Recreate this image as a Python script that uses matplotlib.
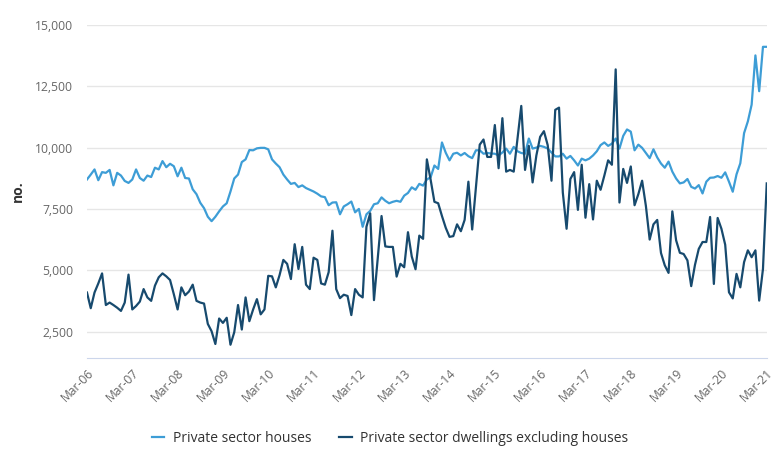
import numpy as np
import matplotlib
matplotlib.use("Agg")
import matplotlib.pyplot as plt
from matplotlib.ticker import FuncFormatter

plt.rcParams['font.family'] = ['Open Sans', 'DejaVu Sans']

# monthly values, Mar to Feb of each year, from Mar-06 to Mar-21
houses_06 = [8700, 8900, 9110, 8670, 9000, 8970, 9090, 8460, 8970, 8860, 8640, 8560]
houses_07 = [8700, 9110, 8760, 8650, 8860, 8800, 9180, 9110, 9450, 9200, 9340, 9240]
houses_08 = [8830, 9180, 8760, 8740, 8300, 8100, 7750, 7530, 7180, 7000, 7180, 7400]
houses_09 = [7600, 7730, 8210, 8740, 8900, 9410, 9520, 9900, 9890, 9970, 9990, 9990]
houses_10 = [9930, 9520, 9350, 9200, 8900, 8700, 8520, 8560, 8390, 8460, 8350, 8280]
houses_11 = [8210, 8120, 8010, 7980, 7650, 7760, 7770, 7280, 7600, 7690, 7800, 7360]
houses_12 = [7500, 6770, 7280, 7420, 7690, 7730, 7970, 7830, 7730, 7790, 7830, 7790]
houses_13 = [8040, 8150, 8380, 8280, 8520, 8450, 8700, 8790, 9270, 9130, 10210, 9790]
houses_14 = [9480, 9750, 9790, 9680, 9780, 9650, 9570, 9890, 9890, 9750, 9780, 9760]
houses_15 = [9750, 9680, 9800, 9960, 9750, 10030, 9850, 9780, 9750, 10370, 9960, 10000]
houses_16 = [10070, 10030, 9960, 9800, 9640, 9640, 9750, 9550, 9660, 9480, 9270, 9550]
houses_17 = [9480, 9550, 9680, 9850, 10100, 10210, 10070, 10160, 10370, 9960, 10480, 10740]
houses_18 = [10650, 9890, 10120, 9990, 9780, 9570, 9930, 9600, 9350, 9180, 9430, 9020]
houses_19 = [8740, 8540, 8580, 8720, 8400, 8330, 8470, 8130, 8610, 8770, 8780, 8840]
houses_20 = [8770, 8990, 8610, 8200, 8910, 9360, 10590, 11070, 11750, 13760, 12300, 14110]
houses_21 = [14110]

other_06 = [4090, 3450, 4090, 4460, 4870, 3580, 3680, 3580, 3470, 3340, 3680, 4820]
other_07 = [3400, 3540, 3720, 4230, 3890, 3750, 4370, 4710, 4870, 4750, 4600, 4020]
other_08 = [3400, 4300, 3980, 4130, 4410, 3750, 3680, 3640, 2810, 2510, 1990, 3030]
other_09 = [2850, 3060, 1960, 2470, 3580, 2580, 3890, 2920, 3400, 3820, 3200, 3400]
other_10 = [4770, 4750, 4300, 4800, 5420, 5260, 4640, 6060, 5050, 5950, 4410, 4230]
other_11 = [5510, 5420, 4460, 4410, 4920, 6610, 4230, 3860, 4000, 3950, 3170, 4230]
other_12 = [4000, 3890, 6770, 7320, 3780, 5500, 7210, 5970, 5950, 5950, 4740, 5260]
other_13 = [5120, 6550, 5560, 5040, 6410, 6280, 9520, 8690, 7790, 7730, 7210, 6730]
other_14 = [6360, 6390, 6870, 6590, 7050, 8610, 6660, 8400, 10120, 10330, 9620, 9620]
other_15 = [10920, 9160, 11200, 9020, 9090, 9020, 10370, 11700, 9090, 10070, 8580, 9680]
other_16 = [10440, 10670, 10100, 8650, 11540, 11630, 8170, 6690, 8720, 9000, 7460, 9300]
other_17 = [7140, 8510, 7070, 8650, 8280, 8860, 9480, 9300, 13190, 7760, 9130, 8560]
other_18 = [9230, 7650, 8100, 8650, 7620, 6250, 6870, 7050, 5700, 5200, 4890, 7400]
other_19 = [6220, 5710, 5660, 5400, 4350, 5220, 5870, 6150, 6150, 7170, 4440, 7130]
other_20 = [6690, 6040, 4100, 3850, 4850, 4300, 5330, 5810, 5530, 5810, 3760, 5050]
other_21 = [8540]

tick_labels = ['Mar-06', 'Mar-07', 'Mar-08', 'Mar-09', 'Mar-10', 'Mar-11', 'Mar-12', 'Mar-13',
               'Mar-14', 'Mar-15', 'Mar-16', 'Mar-17', 'Mar-18', 'Mar-19', 'Mar-20', 'Mar-21']

houses = (houses_06 + houses_07 + houses_08 + houses_09 + houses_10 + houses_11 + houses_12
          + houses_13 + houses_14 + houses_15 + houses_16 + houses_17 + houses_18 + houses_19
          + houses_20 + houses_21)
other = (other_06 + other_07 + other_08 + other_09 + other_10 + other_11 + other_12
         + other_13 + other_14 + other_15 + other_16 + other_17 + other_18 + other_19
         + other_20 + other_21)
months = np.arange(len(houses))

fig = plt.figure(figsize=(7.8, 4.69), dpi=100)
ax = fig.add_axes([0.1115, 0.2367, 0.8715, 0.71])

ax.plot(months, houses, color='#3d9dd6', lw=1.6, label='Private sector houses')
ax.plot(months, other, color='#174a6e', lw=1.6, label='Private sector dwellings excluding houses')

ax.set_xlim(0, 180)
ax.set_ylim(1420, 15000)
ax.set_yticks([2500, 5000, 7500, 10000, 12500, 15000])
ax.yaxis.set_major_formatter(FuncFormatter(lambda v, p: f'{v:,.0f}'))
ax.set_xticks(np.arange(0, 181, 12))
ax.set_xticklabels(tick_labels, rotation=45, ha='right', rotation_mode='anchor')

ax.grid(axis='y', color='#e6e6e6', lw=1)
ax.set_axisbelow(True)
for s in ['top', 'right', 'left']:
    ax.spines[s].set_visible(False)
ax.spines['bottom'].set_color('#ccd6eb')
ax.tick_params(axis='both', length=0, labelsize=8.7, labelcolor='#666666')
ax.tick_params(axis='x', pad=6)
ax.tick_params(axis='y', pad=10)

ax.set_ylabel('no.', fontsize=10, fontweight='bold', color='#333333')
ax.yaxis.set_label_coords(-0.092, 0.5)

fig.legend(loc='center', bbox_to_anchor=(0.5, 0.066), ncol=2, frameon=False,
           fontsize=10, handlelength=0.9, columnspacing=2.0, handletextpad=0.6,
           labelcolor='#333333')

fig.savefig('out.png', dpi=100)
